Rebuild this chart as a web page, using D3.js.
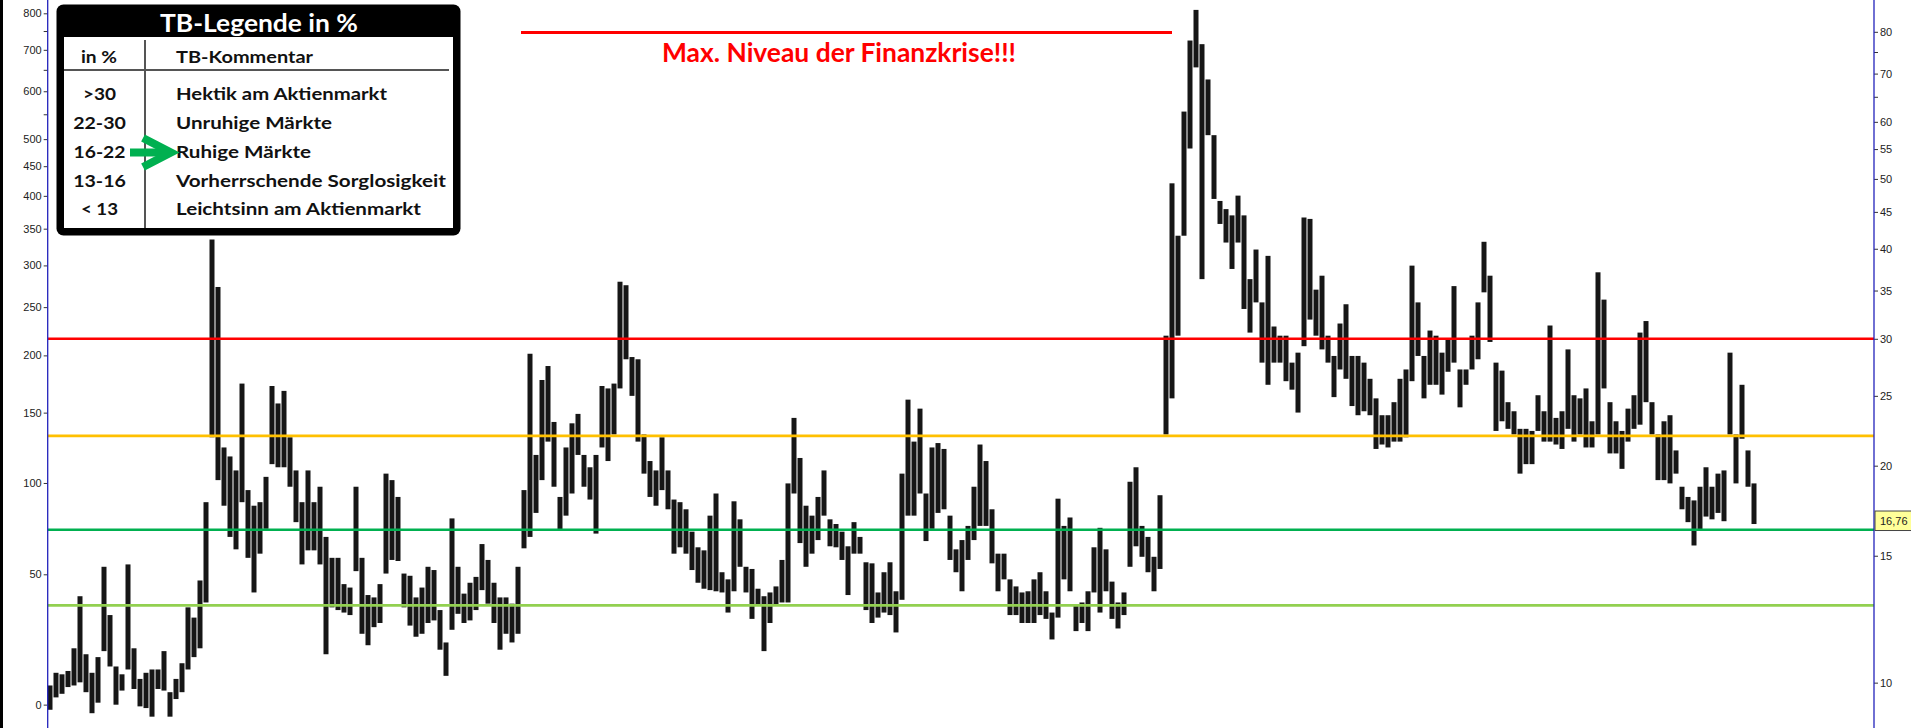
<!DOCTYPE html>
<html><head><meta charset="utf-8">
<script src="https://cdn.jsdelivr.net/npm/d3@7"></script>
<style>
html,body{margin:0;padding:0;background:#fff;overflow:hidden}
svg{display:block}
.axis .tick text{font-family:"Liberation Sans",Arial,sans-serif;font-size:11px;fill:#222}
.axis .tick line{stroke:#333}
</style></head><body>
<svg id="c" width="1911" height="728"></svg>
<script>
// ---- data (volatility index) ----
const high = [
 9.91,10.32,10.27,10.38,11.16,13.18,10.95,10.32,10.85,14.48,
 12.41,10.53,10.27,14.59,11.16,10.12,10.32,10.43,10.43,11.06,
 9.70,10.12,10.64,12.72,12.31,13.86,17.8,41.2,35.4,21.2,
 20.6,19.7,26.0,18.5,17.6,17.8,19.3,25.8,24.4,25.4,
 21.9,19.7,17.8,19.7,17.8,18.7,15.93,14.9,14.9,13.7,
 13.55,18.7,14.9,13.23,13.13,13.7,
 19.5,19.1,18.1,14.17,14.07,13.13,13.55,14.48,14.33,12.61,
 11.37,16.9,14.48,13.29,13.76,14.02,15.57,14.8,13.76,13.13,
 13.13,12.87,14.48,18.5,28.6,20.7,26.3,27.5,23.0,18.1,
 21.2,22.9,23.6,20.7,19.9,20.7,25.8,25.6,26.0,36.0,
 35.6,28.3,28.1,22.1,20.3,19.7,21.9,19.7,17.95,17.8,
 17.4,16.2,15.41,15.26,17.05,
 18.3,14.23,13.91,17.85,16.85,14.48,14.38,13.5,13.18,13.34,
 13.6,14.8,18.9,23.3,20.5,17.6,17.05,18.1,19.7,16.85,
 16.6,16.2,15.46,16.7,15.93,14.69,14.64,13.34,14.23,14.69,
 13.39,19.5,24.7,21.6,24.0,18.3,21.2,21.5,21.1,17.05,
 15.31,15.77,16.5,18.7,21.4,20.3,17.4,15.1,15.1,13.91,
 13.6,13.34,13.39,13.91,
 14.23,13.39,12.51,18.0,16.5,16.95,12.82,12.92,13.39,15.41,
 16.4,15.31,13.81,12.92,13.34,19.0,19.9,16.5,15.93,14.95,
 18.2,
 30.3,49.3,41.7,62.0,77.8,85.8,76.9,68.7,57.5,46.6,
 45.4,44.5,47.4,44.5,36.3,39.9,33.7,39.1,31.2,30.3,
 30.3,27.8,28.7,44.2,44.0,35.1,36.7,30.3,28.4,31.5,
 33.5,28.4,28.4,27.8,26.4,24.8,23.5,23.5,24.5,26.4,
 27.2,37.9,33.7,28.4,30.8,30.3,28.7,30.0,35.5,27.2,
 27.2,30.3,33.7,
 40.9,36.7,27.8,27.1,24.5,23.8,22.5,22.5,22.35,25.05,
 23.8,31.3,23.3,23.8,29.0,25.05,24.8,25.6,23.05,37.1,
 34.0,24.5,23.05,22.35,24.0,25.05,30.6,31.75,24.5,22.1,
 23.05,23.5,21.0,18.7,18.1,17.9,18.7,19.9,18.7,19.5,
 19.7,28.7,22.1,25.9,21.0,18.9
];
const low = [
 9.17,9.54,9.65,9.86,9.91,10.01,9.70,9.07,9.38,11.06,
 10.53,9.32,9.75,10.43,9.80,9.27,9.22,8.97,9.80,9.75,
 8.97,9.49,9.70,10.43,10.85,11.16,12.92,21.9,19.1,17.6,
 15.93,15.31,17.8,14.9,13.34,15.1,16.35,20.1,19.9,19.9,
 18.7,16.7,14.59,15.26,15.26,14.59,10.95,12.72,12.61,12.51,
 12.41,14.28,11.69,11.27,11.94,12.10,
 14.17,14.8,14.75,12.72,12.0,11.58,11.69,12.10,12.2,11.11,
 10.22,11.84,12.46,12.10,12.2,12.61,13.44,12.87,12.10,11.11,
 11.69,11.37,11.69,15.36,15.93,17.2,19.1,21.6,18.7,16.25,
 17.05,18.3,20.7,18.7,17.95,16.1,21.2,20.3,22.1,25.6,
 28.1,25.0,21.6,19.5,18.1,17.6,18.5,17.4,15.1,15.41,
 15.1,14.33,13.76,13.5,13.44,
 13.39,13.34,12.51,13.39,14.48,13.34,12.26,12.82,11.06,12.10,
 12.82,12.92,12.92,18.3,15.62,14.48,15.1,15.77,17.05,15.46,
 15.41,14.8,13.23,15.1,15.1,12.61,12.10,12.31,12.51,12.41,
 11.74,13.03,17.05,17.05,18.3,15.72,16.35,17.2,17.4,14.8,
 14.23,13.39,14.8,15.77,16.5,16.5,14.64,13.39,13.91,12.41,
 12.41,12.10,12.10,12.10,
 12.41,12.26,11.48,12.31,13.91,13.39,11.79,12.10,11.79,13.34,
 12.51,13.39,12.26,11.89,12.41,14.48,15.46,14.95,14.23,13.39,
 14.38,
 22.1,24.8,30.3,41.7,55.1,71.4,36.3,57.5,46.9,43.3,
 40.8,37.5,40.8,33.0,30.6,33.7,27.8,25.9,27.8,27.8,
 26.2,25.5,23.7,29.3,31.9,30.3,29.0,27.8,24.9,27.2,
 26.4,24.2,23.5,23.8,23.5,21.1,21.4,21.2,21.6,21.6,
 21.9,26.2,28.4,24.8,25.9,25.9,25.1,27.0,27.8,24.1,
 25.9,27.2,28.1,
 34.8,29.7,22.35,23.05,22.5,22.1,19.5,20.1,20.1,22.35,
 21.6,21.6,21.4,21.1,22.5,21.6,22.1,21.2,21.2,22.1,
 25.6,20.8,20.8,19.8,21.6,22.5,22.8,24.5,22.1,19.1,
 19.1,18.9,19.5,17.4,16.7,15.5,16.3,17.0,16.85,17.2,
 16.75,22.1,18.9,21.8,18.7,16.6
];
const levels = [30, 22, 16.3, 12.8];
const levelColors = ["#ff0000", "#ffc000", "#00b050", "#92d050"];
const rightTicks = [10,15,20,25,30,35,40,45,50,55,60,65,70,75,80];
const rightUnlabeled = [65,75];
const leftTickValues = [0,50,100,150,200,250,300,350,400,450,500,600,700,800];
const leftMinor = [550,650,750];
const leftOffset = 95;
const lastValue = 16.76;
const lastLabel = "16,76";
const legendTitle = "TB-Legende in %";
const legendHeader = ["in %", "TB-Kommentar"];
const legendRanges = [">30", "22-30", "16-22", "13-16", "< 13"];
const legendComments = ["Hektik am Aktienmarkt", "Unruhige Märkte", "Ruhige Märkte",
  "Vorherrschende Sorglosigkeit", "Leichtsinn am Aktienmarkt"];
const annotation = "Max. Niveau der Finanzkrise!!!";

// ---- drawing ----
const svg = d3.select("#c");
const W = 1911, H = 728;
const axL = 47.7, axR = 1874;
const n = Math.min(high.length, low.length);

// right axis: logarithmic scale
const y = d3.scaleLog().domain([20, 80]).range([465.7, 31.8]);
// left axis: secondary logarithmic (offset) scale as printed
const yLeftLog = d3.scaleLog().domain([50 + leftOffset, 800 + leftOffset]).range([574.3, 13.3]);
const yLeft = d3.scaleLinear().domain([0, 1]).range([0, 1]); // placeholder replaced below
const x = d3.scaleLinear().domain([0, n - 1]).range([50, 1754]);

svg.append("rect").attr("width", W).attr("height", H).attr("fill", "#fff");
svg.append("rect").attr("x", 0).attr("y", 0).attr("width", 3).attr("height", H).attr("fill", "#000");

// bars
const idx = d3.range(n);
svg.append("g").selectAll("rect").data(idx).join("rect")
  .attr("x", i => x(i) - 2.5)
  .attr("width", 5)
  .attr("y", i => y(high[i]))
  .attr("height", i => Math.max(1, y(low[i]) - y(high[i])))
  .attr("fill", "#161616");

// level lines
svg.append("g").selectAll("line").data(levels).join("line")
  .attr("x1", axL).attr("x2", axR)
  .attr("y1", d => y(d)).attr("y2", d => y(d))
  .attr("stroke", (d, i) => levelColors[i]).attr("stroke-width", 2.6);

// axes
const gR = svg.append("g").attr("class", "axis").attr("transform", `translate(${axR},0)`)
  .call(d3.axisRight(y).tickValues(rightTicks)
    .tickFormat(d => rightUnlabeled.includes(d) ? "" : String(d))
    .tickSize(4).tickPadding(2));
gR.select(".domain").remove();
const gL = svg.append("g").attr("class", "axis").attr("transform", `translate(${axL},0)`)
  .call(d3.axisLeft(yLeftLog).tickValues(leftTickValues.concat(leftMinor).map(v => v + leftOffset))
    .tickFormat(d => leftMinor.includes(d - leftOffset) ? "" : String(d - leftOffset))
    .tickSize(4).tickPadding(2));
gL.select(".domain").remove();
svg.append("line").attr("x1", axL).attr("x2", axL).attr("y1", 0).attr("y2", H)
  .attr("stroke", "#2222bb").attr("stroke-width", 1.3);
svg.append("line").attr("x1", axR).attr("x2", axR).attr("y1", 0).attr("y2", H)
  .attr("stroke", "#2222bb").attr("stroke-width", 1.3);

// last value marker
const ly = y(lastValue);
svg.append("rect").attr("x", axR + 1).attr("y", ly - 10).attr("width", 40).attr("height", 19.5)
  .attr("fill", "#ffff99").attr("stroke", "#444").attr("stroke-width", 1);
svg.append("text").attr("x", axR + 6).attr("y", ly + 4)
  .attr("font-family", "Liberation Sans, Arial, sans-serif").attr("font-size", 11).attr("fill", "#222")
  .text(lastLabel);

// annotation
svg.append("line").attr("x1", 521).attr("x2", 1172).attr("y1", 32.5).attr("y2", 32.5)
  .attr("stroke", "#ff0000").attr("stroke-width", 2.8);
svg.append("text").attr("x", 662).attr("y", 62)
  .attr("font-family", "Lato, 'Open Sans', sans-serif").attr("font-weight", 700)
  .attr("font-size", 26).attr("fill", "#ff0000")
  .attr("textLength", 354).attr("lengthAdjust", "spacingAndGlyphs")
  .text(annotation);

// legend
const lg = svg.append("g");
lg.append("rect").attr("x", 56.5).attr("y", 4.5).attr("width", 404).attr("height", 231)
  .attr("rx", 7).attr("fill", "#000");
lg.append("rect").attr("x", 64).attr("y", 37).attr("width", 389).attr("height", 191).attr("fill", "#fff");
const font = "Lato, 'Open Sans', sans-serif";
lg.append("text").attr("x", 160).attr("y", 31.5)
  .attr("font-family", font).attr("font-weight", 700).attr("font-size", 25).attr("fill", "#fff")
  .attr("textLength", 198).attr("lengthAdjust", "spacingAndGlyphs").text(legendTitle);
lg.append("line").attr("x1", 145).attr("x2", 145).attr("y1", 40).attr("y2", 228)
  .attr("stroke", "#555").attr("stroke-width", 2);
lg.append("line").attr("x1", 64).attr("x2", 449).attr("y1", 70).attr("y2", 70)
  .attr("stroke", "#555").attr("stroke-width", 2);
const leftWidths = [33, 52.7, 52, 52.7, 37];
const rightWidths = [211, 156, 135, 270, 245];
const rowBase = [100, 129, 157.7, 186.7, 215];
const txt = (sel, xx, yy, s, w, anchor) => sel.append("text").attr("x", xx).attr("y", yy)
  .attr("font-family", font).attr("font-weight", 700).attr("font-size", 17.5).attr("fill", "#111")
  .attr("text-anchor", anchor || "start")
  .attr("textLength", w).attr("lengthAdjust", "spacingAndGlyphs").text(s);
txt(lg, 99, 63.3, legendHeader[0], 36, "middle");
txt(lg, 176, 63.3, legendHeader[1], 137);
legendRanges.forEach((r, i) => {
  txt(lg, 99.5, rowBase[i], r, leftWidths[i], "middle");
  txt(lg, 176, rowBase[i], legendComments[i], rightWidths[i]);
});
// green arrow pointing at the current regime
lg.append("line").attr("x1", 130).attr("x2", 166).attr("y1", 152.5).attr("y2", 152.5)
  .attr("stroke", "#00b050").attr("stroke-width", 8);
lg.append("path").attr("d", "M143,138 L171,152.5 L143,167")
  .attr("fill", "none").attr("stroke", "#00b050").attr("stroke-width", 8)
  .attr("stroke-linejoin", "miter").attr("stroke-miterlimit", 4);
</script>
</body></html>
